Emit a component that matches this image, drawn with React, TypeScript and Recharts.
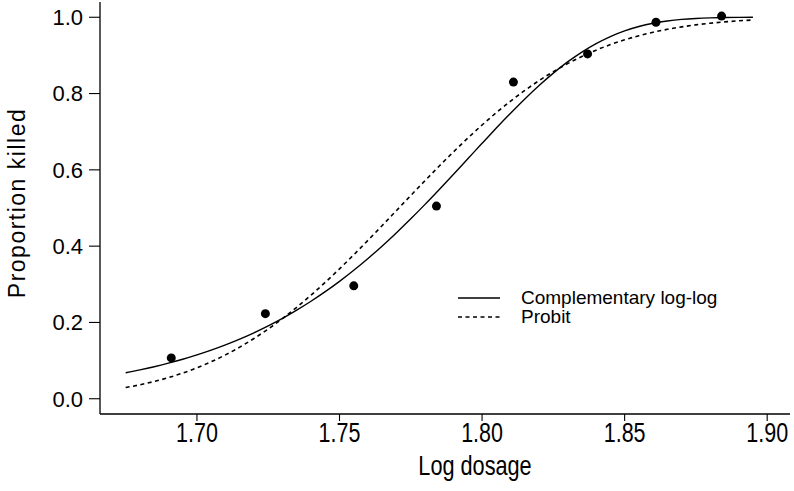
import React from 'react';
import { ComposedChart, Line, Scatter, XAxis, YAxis } from 'recharts';

// fitted curves
const curveDosage = [
  1.675, 1.68, 1.685, 1.69, 1.695, 1.7, 1.705, 1.71, 1.715, 1.72, 1.725, 1.73, 1.735, 1.74, 1.745,
  1.75, 1.755, 1.76, 1.765, 1.77, 1.775, 1.78, 1.785, 1.79, 1.795, 1.8, 1.805, 1.81, 1.815, 1.82,
  1.825, 1.83, 1.835, 1.84, 1.845, 1.85, 1.855, 1.86, 1.865, 1.87, 1.875, 1.88, 1.885, 1.89, 1.895,
];
const clogLogFit = [
  0.068, 0.0756, 0.084, 0.0934, 0.1036, 0.115, 0.1275, 0.1413, 0.1564, 0.1729, 0.191, 0.2107, 0.2322,
  0.2555, 0.2806, 0.3077, 0.3368, 0.3678, 0.4006, 0.4354, 0.4717, 0.5095, 0.5486, 0.5885, 0.629,
  0.6695, 0.7095, 0.7484, 0.7858, 0.821, 0.8535, 0.8829, 0.9088, 0.931, 0.9495, 0.9643, 0.9758,
  0.9843, 0.9903, 0.9944, 0.9969, 0.9984, 0.9993, 0.9997, 0.9999,
];
const probitFit = [
  0.0293, 0.0366, 0.0452, 0.0554, 0.0673, 0.0811, 0.097, 0.115, 0.1353, 0.158, 0.1829, 0.2102, 0.2398,
  0.2715, 0.3052, 0.3405, 0.3774, 0.4154, 0.4542, 0.4935, 0.5328, 0.5717, 0.6101, 0.6473, 0.6832,
  0.7175, 0.7499, 0.7802, 0.8082, 0.834, 0.8574, 0.8784, 0.8972, 0.9138, 0.9283, 0.9408, 0.9516,
  0.9607, 0.9684, 0.9748, 0.9801, 0.9844, 0.9878, 0.9906, 0.9928,
];

// observed proportions
const observedDosage = [1.691, 1.724, 1.755, 1.784, 1.811, 1.837, 1.861, 1.884];
const observedKilled = [0.107, 0.223, 0.296, 0.505, 0.83, 0.904, 0.987, 1.003];

const xTicks = [1.7, 1.75, 1.8, 1.85, 1.9];
const yTicks = [0, 0.2, 0.4, 0.6, 0.8, 1.0];

const FONT = '"Liberation Sans", Arial, Helvetica, sans-serif';
// the scanned x-axis text is taller than it is wide
const X_STRETCH = 1.28;

const clogLogData = curveDosage.map((x, i) => ({ x, y: clogLogFit[i] }));
const probitData = curveDosage.map((x, i) => ({ x, y: probitFit[i] }));
const pointData = observedDosage.map((x, i) => ({ x, y: observedKilled[i] }));

const Dot = (props: any) => <circle cx={props.cx} cy={props.cy} r={4.5} fill="#000" />;

const XTick = ({ x, y, payload }: any) => (
  <text
    transform={`translate(${x}, ${y + 19}) scale(1, ${X_STRETCH})`}
    textAnchor="middle"
    fontSize={21.5}
    fontFamily={FONT}
    fill="#000"
  >
    {Number(payload.value).toFixed(2)}
  </text>
);

const XTitle = ({ viewBox }: any) => (
  <text
    transform={`translate(${viewBox.x + viewBox.width / 2 + 30}, ${viewBox.y + viewBox.height - 16}) scale(1, ${X_STRETCH})`}
    textAnchor="middle"
    fontSize={21.7}
    fontFamily={FONT}
    fill="#000"
  >
    Log dosage
  </text>
);

const YTitle = ({ viewBox }: any) => (
  <text
    transform={`translate(${viewBox.x + 25}, ${viewBox.y + viewBox.height / 2 - 5}) rotate(-90)`}
    textAnchor="middle"
    fontSize={23}
    letterSpacing={1.5}
    fontFamily={FONT}
    fill="#000"
  >
    Proportion killed
  </text>
);

export default function App() {
  return (
    <div style={{ position: 'absolute', left: 0, top: 0, width: 794, height: 491, background: '#fff' }}>
      <ComposedChart width={794} height={491} margin={{ top: 2, right: 4, bottom: 0, left: 0 }}>
        <XAxis
          dataKey="x"
          type="number"
          domain={[1.666, 1.908]}
          ticks={xTicks}
          height={77}
          tick={<XTick />}
          tickSize={7}
          axisLine={{ stroke: '#000', strokeWidth: 1.3 }}
          tickLine={{ stroke: '#000', strokeWidth: 1.1 }}
          allowDataOverflow
          label={{ content: XTitle }}
        />
        <YAxis
          dataKey="y"
          type="number"
          domain={[-0.04, 1.04]}
          ticks={yTicks}
          tickFormatter={(v: number) => v.toFixed(1)}
          width={100}
          tick={{ fill: '#000', fontSize: 22, fontFamily: FONT }}
          tickSize={11}
          tickMargin={6}
          axisLine={{ stroke: '#000', strokeWidth: 1.3 }}
          tickLine={{ stroke: '#000', strokeWidth: 1.1 }}
          allowDataOverflow
          label={{ content: YTitle }}
        />
        <Line
          data={clogLogData}
          dataKey="y"
          type="monotone"
          stroke="#000"
          strokeWidth={1.4}
          dot={false}
          activeDot={false}
          isAnimationActive={false}
        />
        <Line
          data={probitData}
          dataKey="y"
          type="monotone"
          stroke="#000"
          strokeWidth={1.6}
          strokeDasharray="4 3.5"
          dot={false}
          activeDot={false}
          isAnimationActive={false}
        />
        <Scatter data={pointData} dataKey="y" fill="#000" shape={Dot} isAnimationActive={false} />
      </ComposedChart>
      <div
        style={{
          position: 'absolute',
          left: 458,
          top: 288,
          fontFamily: FONT,
          fontSize: 19,
          lineHeight: '19px',
          color: '#000',
        }}
      >
        <div style={{ display: 'flex', alignItems: 'center', height: 19 }}>
          <svg width={42} height={4} style={{ marginRight: 21 }}>
            <line x1={0} y1={2} x2={42} y2={2} stroke="#000" strokeWidth={1.4} />
          </svg>
          <span>Complementary log-log</span>
        </div>
        <div style={{ display: 'flex', alignItems: 'center', height: 19 }}>
          <svg width={42} height={4} style={{ marginRight: 21 }}>
            <line x1={0} y1={2} x2={42} y2={2} stroke="#000" strokeWidth={1.6} strokeDasharray="4 3.5" />
          </svg>
          <span>Probit</span>
        </div>
      </div>
    </div>
  );
}
